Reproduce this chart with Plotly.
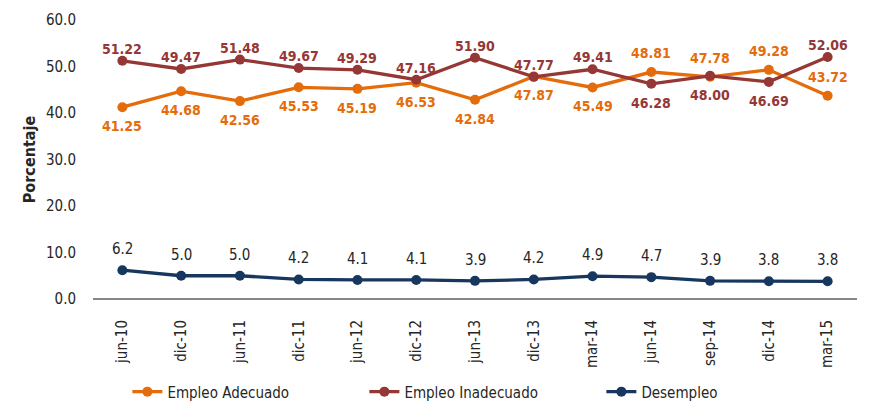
import plotly.graph_objects as go

categories = ["jun-10", "dic-10", "jun-11", "dic-11", "jun-12", "dic-12", "jun-13",
              "dic-13", "mar-14", "jun-14", "sep-14", "dic-14", "mar-15"]
adecuado = [41.25, 44.68, 42.56, 45.53, 45.19, 46.53, 42.84, 47.87, 45.49, 48.81, 47.78, 49.28, 43.72]
inadecuado = [51.22, 49.47, 51.48, 49.67, 49.29, 47.16, 51.90, 47.77, 49.41, 46.28, 48.00, 46.69, 52.06]
desempleo = [6.2, 5.0, 5.0, 4.2, 4.1, 4.1, 3.9, 4.2, 4.9, 4.7, 3.9, 3.8, 3.8]

# label placement: +1 above the point, -1 below
side_adecuado = [-1] * 9 + [1] * 4
side_inadecuado = [1] * 9 + [-1] * 3 + [1]
side_desempleo = [1] * 13

ORANGE = "#E46C0A"
RED = "#953735"
NAVY = "#17375E"
FONT = "DejaVu Sans Condensed, Roboto, sans-serif"

fig = go.Figure()
for name, vals, color in [("Empleo Adecuado", adecuado, ORANGE),
                          ("Empleo Inadecuado", inadecuado, RED),
                          ("Desempleo", desempleo, NAVY)]:
    fig.add_trace(go.Scatter(
        x=categories, y=vals, name=name, mode="lines+markers",
        line=dict(color=color, width=3.3), marker=dict(size=10, color=color),
        hoverinfo="x+y+name",
    ))

annotations = []
for vals, sides, color, fmt, bold, up, down in [
    (adecuado, side_adecuado, ORANGE, "{:.2f}", True, 19, 19),
    (inadecuado, side_inadecuado, RED, "{:.2f}", True, 12, 19),
    (desempleo, side_desempleo, "#262626", "{:.1f}", False, 21, 21),
]:
    for c, v, s in zip(categories, vals, sides):
        annotations.append(dict(
            x=c, y=v, xref="x", yref="y", text=fmt.format(v), showarrow=False,
            yanchor="middle", xanchor="center", yshift=up if s > 0 else -down,
            font=dict(color=color, size=14 if bold else 15, family=FONT,
                      weight="bold" if bold else "normal"),
        ))

fig.update_layout(
    width=878, height=402,
    margin=dict(l=85, r=29, t=12, b=111, autoexpand=False),
    plot_bgcolor="white", paper_bgcolor="white",
    font=dict(family=FONT, size=15, color="#262626"),
    showlegend=True,
    annotations=annotations,
    legend=dict(orientation="h", x=0.045, y=-0.333, xanchor="left", yanchor="middle",
                entrywidth=192, entrywidthmode="pixels",
                font=dict(size=15, family=FONT, color="#262626")),
    xaxis=dict(type="category", range=[-0.5, 12.5], tickangle=-90, showgrid=False,
               showline=False, ticks="", tickfont=dict(size=15, family=FONT),
               automargin=False, ticklabelstandoff=17),
    yaxis=dict(range=[0, 60], dtick=10, tickformat=".1f", showgrid=False,
               zeroline=True, zerolinecolor="#868686", zerolinewidth=2,
               showline=False, ticks="", tickfont=dict(size=15, family=FONT),
               automargin=False, ticklabelstandoff=16,
               title=dict(text="<b>Porcentaje</b>", font=dict(size=16, family=FONT), standoff=6)),
)

fig.write_html("out.html")
